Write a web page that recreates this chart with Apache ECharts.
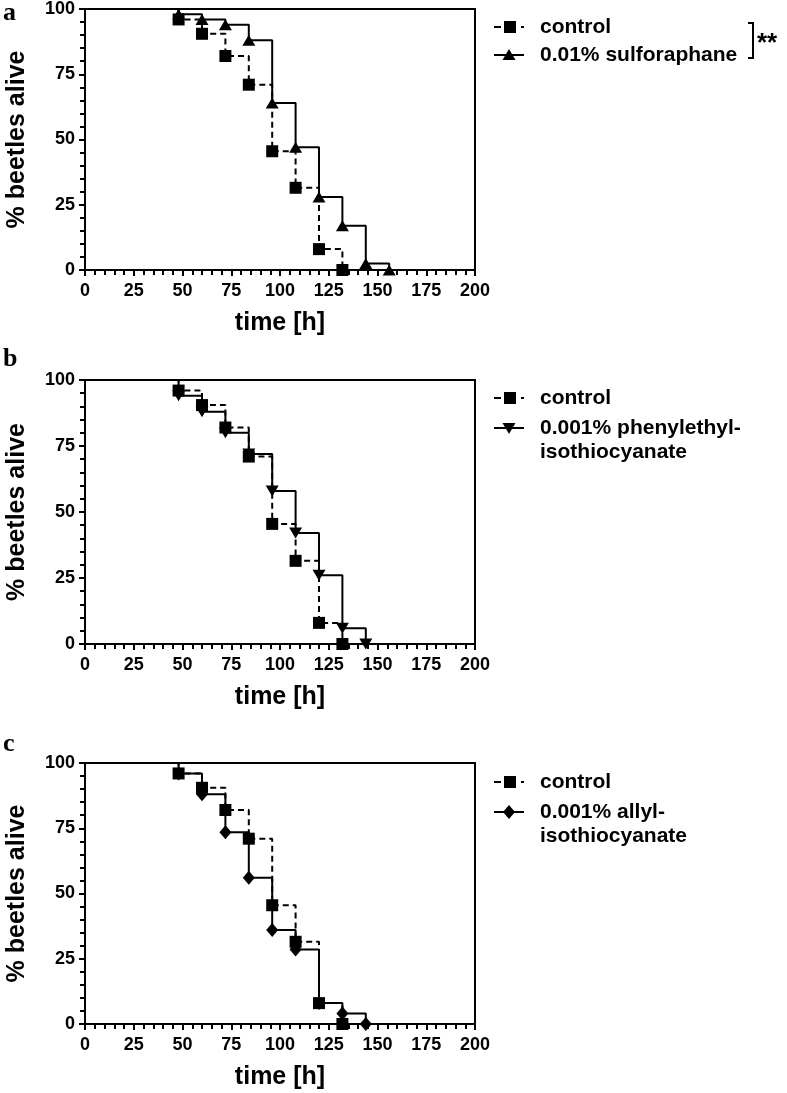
<!DOCTYPE html>
<html>
<head>
<meta charset="utf-8">
<title>Beetle survival</title>
<script src="https://cdn.jsdelivr.net/npm/echarts@6/dist/echarts.min.js"></script>
<style>
  html, body { margin: 0; padding: 0; background: #fff; }
  #chart { width: 787px; height: 1093px; }
</style>
</head>
<body>
<div id="chart"></div>
<script>
// survival data (% beetles alive), sampled every 12 h after the first death
const TIMES = [0, 48, 60, 72, 84, 96, 108, 120, 132, 144, 156];
const CONTROL = [100, 96, 90.5, 82, 71, 45.5, 31.5, 8, 0];
const SULFORAPHANE = [100, 98, 96, 94, 88, 64, 47, 28, 17, 2.5, 0];
const PHENYLETHYL = [100, 94, 88, 80, 72, 58, 42, 26, 6, 0];
const ALLYL = [100, 96, 88, 73.5, 56, 36, 28.5, 8, 4, 0];

const PANEL_LETTERS = ['a', 'b', 'c'];
const TREATMENT_NAMES = ['0.01% sulforaphane', '0.001% phenylethyl-isothiocyanate', '0.001% allyl-isothiocyanate'];
const TREATMENT_DATA = [SULFORAPHANE, PHENYLETHYL, ALLYL];

const FONT = '"Liberation Sans", Arial, sans-serif';
const BLACK = '#000';

// plot area per panel
const PANELS = [
  { top: 9,   height: 261, symbol: 'triangle', rotate: 0,   size: [13, 11], legendY: 27 },
  { top: 380, height: 264, symbol: 'triangle', rotate: 180, size: [13, 11], legendY: 398 },
  { top: 763, height: 261, symbol: 'diamond',  rotate: 0,   size: [12, 14], legendY: 782 },
];

function toPoints(values) {
  return values.map((v, k) => k === 0
    ? { value: [TIMES[k], v], symbol: 'none' }
    : [TIMES[k], v]);
}

const axisLine = { show: true, onZero: false, lineStyle: { color: BLACK, width: 2 } };
const axisTick = { show: true, length: 6, lineStyle: { color: BLACK, width: 2 } };
const minorTick = { show: true, splitNumber: 5, length: 5, lineStyle: { color: BLACK, width: 2 } };
const tickLabel = { color: BLACK, fontSize: 18, fontWeight: 'bold', fontFamily: FONT };
const nameStyle = { color: BLACK, fontSize: 25, fontWeight: 'bold', fontFamily: FONT };

const grid = PANELS.map((p) => ({
  left: 85, width: 390, top: p.top, height: p.height,
  show: true, borderColor: BLACK, borderWidth: 2, backgroundColor: 'transparent',
}));

const xAxis = PANELS.map((p, i) => ({
  gridIndex: i, type: 'value', min: 0, max: 200, interval: 25,
  name: 'time [h]', nameLocation: 'middle', nameGap: 41, nameTextStyle: nameStyle,
  axisLine, axisTick, minorTick,
  axisLabel: { ...tickLabel, margin: 12 },
  splitLine: { show: false },
}));

const yAxis = PANELS.map((p, i) => ({
  gridIndex: i, type: 'value', min: 0, max: 100, interval: 25,
  name: '% beetles alive', nameLocation: 'middle', nameGap: 55, nameTextStyle: nameStyle,
  axisLine, axisTick, minorTick,
  axisLabel: { ...tickLabel, margin: 10 },
  splitLine: { show: false },
}));

const series = [];
PANELS.forEach((p, i) => {
  series.push({
    type: 'line', name: TREATMENT_NAMES[i], xAxisIndex: i, yAxisIndex: i,
    step: 'end', data: toPoints(TREATMENT_DATA[i]),
    symbol: p.symbol, symbolSize: p.size, symbolRotate: p.rotate,
    lineStyle: { color: BLACK, width: 2 }, itemStyle: { color: BLACK },
    clip: false, z: 2,
  });
  series.push({
    type: 'line', name: 'control', xAxisIndex: i, yAxisIndex: i,
    step: 'end', data: toPoints(CONTROL),
    symbol: 'rect', symbolSize: 12,
    lineStyle: { color: BLACK, width: 2, type: [6, 4] }, itemStyle: { color: BLACK },
    clip: false, z: 3,
  });
});

// legends drawn by hand so multi-line labels line up like the original
const LEGEND_X = 494;
const TEXT_X = 540;
const lineEl = (x1, y1, x2, y2) => ({ type: 'line', shape: { x1, y1, x2, y2 }, style: { stroke: BLACK, lineWidth: 2 } });
const textEl = (x, y, text, size) => ({
  type: 'text', x, y,
  style: { text, fill: BLACK, font: `bold ${size || 21}px ${FONT}`, verticalAlign: 'middle' },
});

function controlIcon(y) {
  return [
    lineEl(LEGEND_X, y, LEGEND_X + 7, y),
    { type: 'rect', shape: { x: LEGEND_X + 10, y: y - 6, width: 12, height: 12 }, style: { fill: BLACK } },
    { type: 'rect', shape: { x: LEGEND_X + 27, y: y - 1, width: 3, height: 2 }, style: { fill: BLACK } },
  ];
}

function treatmentIcon(i, y) {
  const cx = LEGEND_X + 15;
  let pts;
  if (i === 0) pts = [[cx - 6.5, y + 5], [cx + 6.5, y + 5], [cx, y - 6]];
  else if (i === 1) pts = [[cx - 6.5, y - 5], [cx + 6.5, y - 5], [cx, y + 6]];
  else pts = [[cx, y - 7], [cx + 6, y], [cx, y + 7], [cx - 6, y]];
  return [
    lineEl(LEGEND_X, y, LEGEND_X + 30, y),
    { type: 'polygon', shape: { points: pts }, style: { fill: BLACK } },
  ];
}

const LEGEND_LINES = [
  ['0.01% sulforaphane'],
  ['0.001% phenylethyl-', 'isothiocyanate'],
  ['0.001% allyl-', 'isothiocyanate'],
];

const graphic = [];
PANELS.forEach((p, i) => {
  const y0 = p.legendY;
  const y1 = y0 + (i === 0 ? 28 : 30);
  graphic.push(...controlIcon(y0), textEl(TEXT_X, y0, 'control'));
  graphic.push(...treatmentIcon(i, y1));
  LEGEND_LINES[i].forEach((t, k) => graphic.push(textEl(TEXT_X, y1 + k * 24, t)));
});
// significance bracket for panel a
graphic.push({
  type: 'polyline',
  shape: { points: [[748, 23], [753, 23], [753, 58], [748, 58]] },
  style: { stroke: BLACK, lineWidth: 2, fill: null },
});
graphic.push(textEl(757, 44, '**', 26));

const title = PANELS.map((p, i) => ({
  text: PANEL_LETTERS[i], left: 3, top: [0, 346, 731][i], padding: 0,
  textStyle: { color: BLACK, fontSize: 26, fontWeight: 'bold', fontFamily: '"Liberation Serif", "Times New Roman", serif' },
}));

const chart = echarts.init(document.getElementById('chart'), null, { renderer: 'canvas' });
chart.setOption({
  animation: false,
  backgroundColor: '#fff',
  title, grid, xAxis, yAxis, series, graphic,
});
</script>
</body>
</html>
